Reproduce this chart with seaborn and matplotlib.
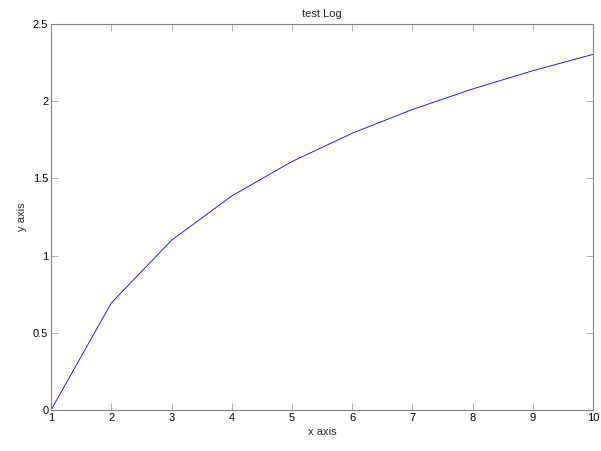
import matplotlib
matplotlib.use("Agg")
import matplotlib.pyplot as plt
import seaborn as sns
import pandas as pd

# values (log curve)
x_vals = [1, 2, 3, 4, 5, 6, 7, 8, 9, 10]
y_vals = [0.0, 0.693, 1.099, 1.386, 1.609, 1.792, 1.946, 2.079, 2.197, 2.303]
x_ticks = [1, 2, 3, 4, 5, 6, 7, 8, 9, 10]
y_ticks = [0, 0.5, 1, 1.5, 2, 2.5]
y_tick_labels = ["0", "0.5", "1", "1.5", "2", "2.5"]

sns.set_style("white")
plt.rcParams['font.family'] = ['Liberation Sans', 'DejaVu Sans']

df = pd.DataFrame({"x": x_vals, "y": y_vals})

fig = plt.figure(figsize=(6.01, 4.51), dpi=100)
ax = fig.add_axes([0.085, 0.091, 0.902, 0.856])

sns.lineplot(data=df, x="x", y="y", ax=ax, color="blue", linewidth=0.6)

ax.set_xlim(1, 10)
ax.set_ylim(0, 2.5)
ax.set_xticks(x_ticks)
ax.set_xticklabels([str(t) for t in x_ticks])
ax.set_yticks(y_ticks)
ax.set_yticklabels(y_tick_labels)

for s in ax.spines.values():
    s.set_color("#808080")
    s.set_linewidth(0.8)
    s.set_visible(True)

ax.tick_params(direction="in", length=5, width=0.6, color="#a0a0a0",
               top=True, right=True, bottom=True, left=True,
               labelsize=8, pad=2, labelcolor="black")

ax.set_xlabel("x axis", fontsize=8, labelpad=3)
ax.set_ylabel("y axis", fontsize=8, labelpad=4)
ax.set_title("test Log", fontsize=8, pad=5)
ax.grid(False)

plt.savefig("out.png", dpi=100)
print("saved out.png")
